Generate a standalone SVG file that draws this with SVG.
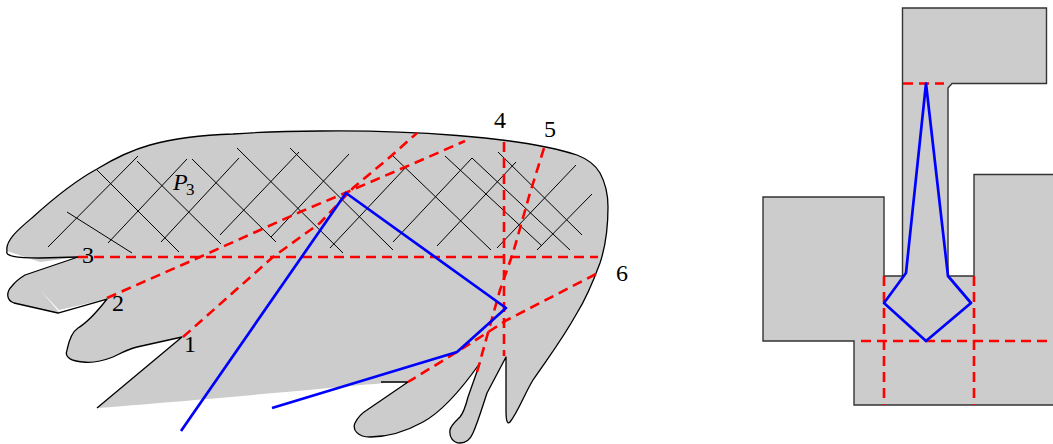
<svg xmlns="http://www.w3.org/2000/svg" width="1053" height="444" viewBox="0 0 1053 444">
<style>
.fill{fill:#ccc;stroke:none}
.out{fill:none;stroke:#000;stroke-width:1.3;stroke-linejoin:round}
.box{fill:#ccc;stroke:#333;stroke-width:1.4}
.h{fill:none;stroke:#000;stroke-width:1}
.r{fill:none;stroke:#f00;stroke-width:2.6;stroke-dasharray:10 6}
.b{fill:none;stroke:#00f;stroke-width:2.7;stroke-linejoin:round}
text{font-family:"Liberation Serif",serif;font-size:24px;fill:#000}
</style>
<g id="left-polygon">
<path class="fill" d="M97 408L182 337L137 347C125 350 118 355 113 357C100 362 90 363 83 362C72 361 64 358 67 350C69 340 72 332 78 328C88 322 100 308 107 299L58 313L14 303C6 300 6 292 12 286C16 281 20 278 25 275L78 257L40 262L7 251C5 240 20 228 33 217C55 197 75 181 97 169C115 158 132 150 150 145C175 138 200 135 233 134C260 132 290 131 320 131C400 130 520 136 577 155C590 160 596 166 600 173C606 184 608 195 608 207C608 230 606 245 600 263C593 282 587 297 577 313C562 340 548 358 533 380C525 393 518 412 510 422C507 425 506 420 506 410V357L487 393C483 405 478 422 473 433C470 440 466 443 460 443C453 443 449 437 450 430C451 425 456 421 460 417C464 412 466 405 468 397L480 363C468 380 445 410 423 422C405 432 385 437 370 437C358 437 352 430 355 423C358 417 362 413 367 410L408 382C380 382 300 392 97 408Z"/>
<path fill="#fff" d="M41 291L59 312L107 299L59 310Z"/>
<path class="out" d="M97 408L182 337L137 347C125 350 118 355 113 357C100 362 90 363 83 362C72 361 64 358 67 350C69 340 72 332 78 328C88 322 100 308 107 299L58 313L14 303C6 300 6 292 12 286C16 281 20 278 25 275L78 257"/>
<path class="out" d="M78 257L40 258C15 258 5 256 7 251C5 240 20 228 33 217C55 197 75 181 97 169C115 158 132 150 150 145C175 138 200 135 233 134C260 132 290 131 320 131C400 130 520 136 577 155C590 160 596 166 600 173C606 184 608 195 608 207C608 230 606 245 600 263C593 282 587 297 577 313C562 340 548 358 533 380C525 393 518 412 510 422C507 425 506 420 506 410V357L487 393C483 405 478 422 473 433C470 440 466 443 460 443C453 443 449 437 450 430C451 425 456 421 460 417C464 412 466 405 468 397L480 363C468 380 445 410 423 422C405 432 385 437 370 437C358 437 352 430 355 423C358 417 362 413 367 410L408 382L381 382"/>
</g>
<g id="hatching">
<path class="h" d="M48 247L138 156M108 243L187 159M161 242L239 158M220 235L299 152M271 237L349 154M330 248L408 165M393 242L472 158M437 246L516 162M497 248L576 165M537 250L592 194"/>
<path class="h" d="M67 212L132 253M96 169L179 252M137 161L221 244M192 159L276 242M237 148L343 253M290 148L393 250M392 155L491 250M445 156L542 246M472 158L570 250M498 152L582 235"/>
</g>
<g id="left-connectors">
<path class="r" d="M78 257H598"/>
<path class="r" d="M107 298L200 257L300 212L345 193L410 165L465 141"/>
<path class="r" d="M183 337L273 257L320 223L353 188L390 157L417 133"/>
<path class="r" d="M504 142V356"/>
<path class="r" d="M544 148L530 193L513 253L500 290L477 372"/>
<path class="r" d="M596 274L507 320L457 352L408 382"/>
<path class="b" d="M181 431L346 193L506 308L457 352L272 408"/>
</g>
<g id="left-labels">
<text x="82" y="263">3</text>
<text x="112" y="311">2</text>
<text x="184" y="352">1</text>
<text x="494" y="128">4</text>
<text x="544" y="137">5</text>
<text x="616" y="281">6</text>
<text x="173" y="190" font-style="italic">P</text>
<text x="186" y="195" style="font-size:17px">3</text>
</g>
<g id="right-polygon">
<path class="box" d="M902.500 8H1046.500V83.500H952L948 88V276H974V174.500H1054V405H854V341H763V197H884V276H902.500Z"/>
</g>
<g id="right-connectors">
<path class="r" d="M903 83.500H944"/>
<path class="r" d="M884 276V405"/>
<path class="r" d="M974 276V405"/>
<path class="r" d="M861 341H1053"/>
<path class="b" d="M926 83.500L948 276L971 303L926 341L884 303L906 273Z"/>
</g>
</svg>
